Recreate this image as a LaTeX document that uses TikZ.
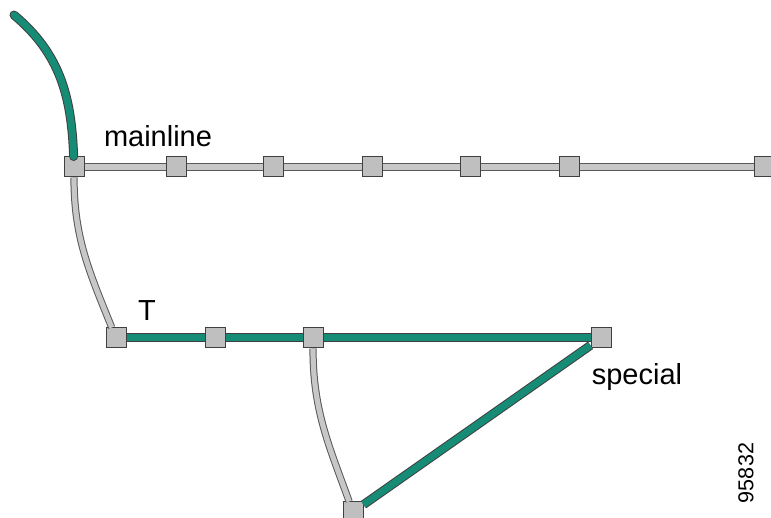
\documentclass[tikz,border=0pt]{standalone}
\usepackage{fontspec}
\setmainfont{Liberation Sans}
\definecolor{trackgreen}{RGB}{22,140,118}

\tikzset{
  stn/.style={draw=black!75, fill=black!25, line width=0.5pt, minimum size=10pt, inner sep=0pt},
  graytrack/.style={draw=black!65, line width=0.5pt, double=black!22, double distance=2.6pt},
  greentrack/.style={draw=black!75, line width=0.5pt, double=trackgreen, double distance=3.5pt},
  lbl/.style={font=\fontsize{14.5}{17}\selectfont}
}

\begin{document}
\begin{tikzpicture}[x=0.5pt, y=0.5pt]
\useasboundingbox (0,0) rectangle (771,518);

\node (m0) at (74,351) [stn] {};
\node (m1) at (176,351) [stn] {};
\node (m2) at (273,351) [stn] {};
\node (m3) at (372,351) [stn] {};
\node (m4) at (470,351) [stn] {};
\node (m5) at (569,351) [stn] {};
\node (m6) at (764,351) [stn] {};

\node (t0) at (116,180) [stn] {};
\node (t1) at (215,180) [stn] {};
\node (t2) at (313,180) [stn] {};
\node (t3) at (601,180) [stn] {};
\node (s) at (353,6) [stn] {};

\coordinate (start) at (14,503);

\foreach \a/\b in {m0/m1, m1/m2, m2/m3, m3/m4, m4/m5, m5/m6}
  \draw [graytrack] (\a) -- (\b);
\foreach \a/\b in {t0/t1, t1/t2, t2/t3}
  \draw [greentrack] (\a) -- (\b);

\draw [greentrack, line cap=round] (start) to[out=-40, in=92] (m0);
\draw [graytrack] (m0) to[out=-90, in=112] (t0);
\draw [graytrack] (t2) to[out=-90, in=110] (s);
\draw [greentrack] (t3) -- (s);

\node (mainlbl) at (158,382) [lbl] {mainline};
\node (tlbl) at (147,207) [lbl] {T};
\node (speclbl) at (637,141) [lbl] {special};
\node (fignum) at (746,45) [rotate=90, font=\fontsize{10.8}{13}\selectfont] {95832};
\end{tikzpicture}
\end{document}
